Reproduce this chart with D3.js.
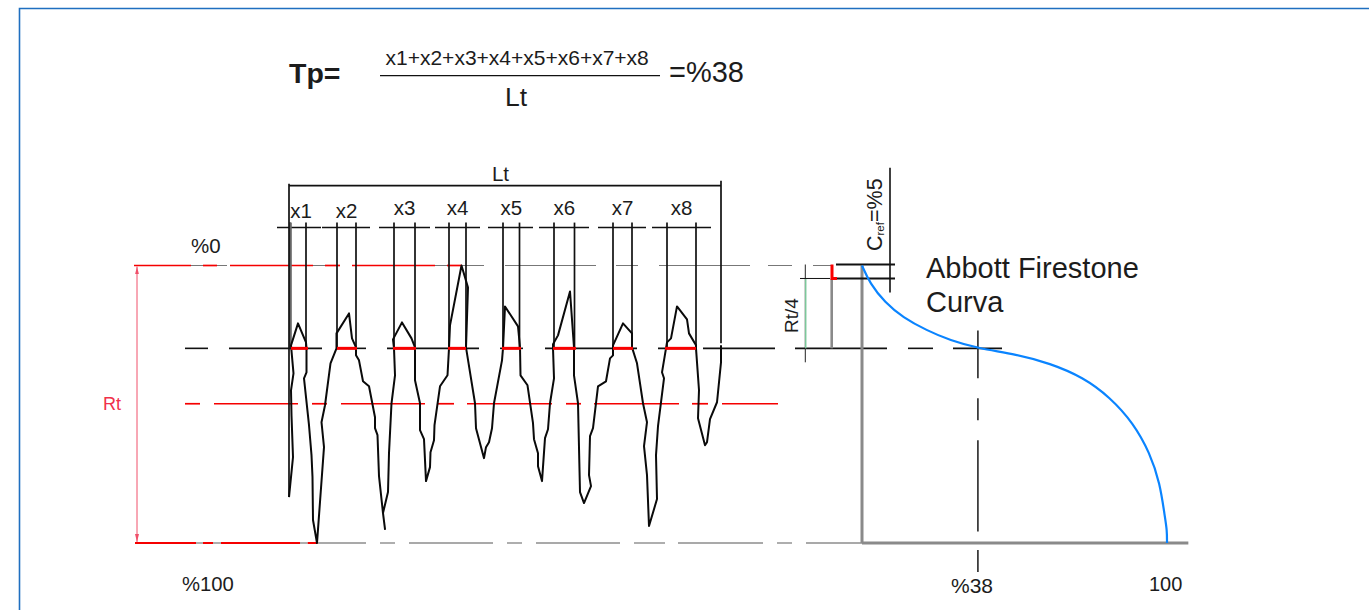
<!DOCTYPE html>
<html lang="en">
<head>
    <meta charset="UTF-8">
    <title>Abbott Firestone Curve</title>
    <script src="https://d3js.org/d3.v7.min.js"></script>
    <style>
        html, body { margin: 0; background: #fff; }
        svg { display: block; }
        text { font-family: "Liberation Sans", sans-serif; fill: #1c1c1c; }
    </style>
</head>
<body>
    <svg width="1369" height="610"></svg>

    <script>
        // profile trace, position along Lt (0-432) and depth below the top line (0-278)
        const profileX = [0, 4, 2.5, 2, 4.5, 2, 9, 17, 17.5, 17.5, 15, 20, 22.5, 23.5, 24, 28, 35, 32.5, 36, 41.5, 47.5,
            47.5, 60, 63, 67, 67, 70, 74, 80, 86, 86, 88.5, 90, 94, 96, 94, 99, 100, 102.5, 106, 105,
            104, 113, 122.5, 126, 126, 131, 131, 135, 136, 137, 141, 141.5, 145, 145.5, 151, 158.5, 160,
            161, 172.5, 179, 177, 186, 187, 191, 195, 197, 200, 203, 205, 213, 214,
            216, 229, 231, 231.5, 238.5, 244, 245, 249, 249, 253, 256, 259, 261, 265, 264,
            264, 269, 281, 285, 285, 289, 291, 295, 302, 300, 301, 304, 309, 317, 321, 324, 324,
            324, 334, 343, 343, 348, 354, 358, 355, 358, 360, 368, 367, 369, 375, 373, 377,
            378, 382, 388, 398, 400, 407, 407, 410, 409, 416, 418, 421, 428, 432, 432];
        const profileDepth = [232, 192, 150, 125, 108, 80, 58, 77, 83, 107, 113, 160, 190, 212, 255, 278, 182, 157, 140, 98, 83,
            68, 48, 73, 82, 90, 95, 116, 121, 152, 163, 170, 211, 248, 264, 248, 227, 188, 138, 110, 83,
            74, 57, 73, 82, 115, 138, 165, 174, 195, 216, 202, 187, 175, 160, 121, 110, 83,
            60, 0, 22, 82, 138, 163, 178, 193, 182, 177, 163, 138, 95, 83,
            41, 61, 82, 110, 120, 158, 174, 188, 201, 216, 173, 164, 138, 113, 83,
            79, 70, 26, 82, 110, 138, 227, 238, 221, 210, 171, 163, 121, 116, 93, 90, 83,
            80, 58, 68, 82, 98, 138, 157, 181, 210, 261, 234, 190, 161, 113, 107, 83,
            77, 73, 41, 54, 68, 80, 83, 125, 153, 180, 177, 154, 137, 97, 80];

        // bearing ratio curve, percent of Lt against depth
        const bearingPct = [0, 2.6, 7.5, 13.4, 21.2, 28.9, 38, 50.7, 61.6, 72.5, 81.3, 89, 94.4, 97.7, 99.3, 100, 100];
        const bearingDepth = [0, 18, 37, 52, 65, 75, 83, 89, 98, 112, 132, 158, 188, 218, 252, 265, 278];

        // x1..x8 intervals where the profile is above the mean line
        const xLabels = ["x1", "x2", "x3", "x4", "x5", "x6", "x7", "x8"];
        const xStart = [1, 48, 105, 160, 214, 265, 324, 378];
        const xEnd = [17, 67, 126, 177, 230.5, 285.5, 343, 407];

        const topDepth = 0, crefDepth = 13, meanDepth = 83, redDepth = 138.5, bottomDepth = 278, rowDepth = -38;

        // dashed construction lines, [from, to] along the Lt scale
        const topRed = [[-155, -98], [-86, -72], [-59, 24], [36, 51], [63, 146], [158, 173]];
        const topGrey = [[-98, -86], [-72, -62], [24, 36], [146, 158], [173, 195], [216, 307], [327, 349], [370, 461], [479, 503], [524, 543]];
        const meanBlack = [[-104, -81], [-60, 33], [48, 77], [98, 190], [211, 234], [256, 348], [369, 407], [414, 486], [506, 598], [619, 644], [664, 713]];
        const meanRed = [[2, 19], [48, 68], [104, 127], [159, 177], [213, 232], [264, 287], [324, 344], [376, 407]];
        const midRed = [[-104, -89], [-75, 9], [23, 38], [52, 136], [149, 165], [178, 263], [277, 292], [305, 390], [403, 419], [433, 489]];
        const rowBlack = [[-12, 32], [33, 81], [90, 141], [146, 191], [199, 244], [250, 300], [309, 357], [363, 422]];
        const bottomRed = [[-154, -93], [-86, -76], [-68, 11], [18.7, 28.7]];
        const bottomGrey = [[-93, -86], [-76, -68], [11, 18.7], [28.7, 77], [91, 106], [120, 204], [218, 233], [247, 331], [345, 376], [389, 474], [488, 503], [517, 573]];

        // %38 marker, dashes given as [from, to] in depth
        const markPct = 38;
        const markDashes = [[65, 113], [133, 155], [175, 266.5], [285, 307]];

        const svg = d3.select("svg");

        const x = d3.scaleLinear().domain([0, 432]).range([289, 721]);
        const y = d3.scaleLinear().domain([0, 278]).range([265.5, 543]);
        const bearingX = d3.scaleLinear().domain([0, 100]).range([862, 1167]);

        // outer frame
        svg.append("path")
            .attr("d", "M19.5,610V8.5H1369")
            .attr("fill", "none")
            .attr("stroke", "#1f6fc0")
            .attr("stroke-width", 1.6);

        svg.append("defs").selectAll("marker")
            .data(["up", "down"])
            .enter().append("marker")
            .attr("id", d => "rt-" + d)
            .attr("markerUnits", "userSpaceOnUse")
            .attr("markerWidth", 6).attr("markerHeight", 8)
            .attr("refX", 3).attr("refY", d => d == "up" ? 0 : 8)
            .attr("orient", 0)
            .append("path")
            .attr("d", d => d == "up" ? "M3,0L5,8H1Z" : "M3,8L5,0H1Z")
            .attr("fill", "#f0506a");

        function hLines(segs, depth, color, width) {
            svg.append("g").selectAll("line")
                .data(segs)
                .enter().append("line")
                .attr("x1", d => x(d[0]))
                .attr("x2", d => x(d[1]))
                .attr("y1", y(depth))
                .attr("y2", y(depth))
                .attr("stroke", color)
                .attr("stroke-width", width);
        }

        function vLine(pos, d0, d1, color, width) {
            return svg.append("line")
                .attr("x1", pos).attr("x2", pos)
                .attr("y1", y(d0)).attr("y2", y(d1))
                .attr("stroke", color).attr("stroke-width", width);
        }

        function label(str, px, py, size) {
            return svg.append("text").attr("x", px).attr("y", py).attr("font-size", size).text(str);
        }

        // horizontal construction lines
        hLines(topGrey, topDepth, "#777", 1);
        hLines(bottomGrey, bottomDepth, "#8c8c8c", 1.4);
        hLines(topRed, topDepth, "#f50000", 1.7);
        hLines(bottomRed, bottomDepth, "#f50000", 2);
        hLines(meanBlack, meanDepth, "#111", 1.6);
        hLines(midRed, redDepth, "#f50000", 1.7);
        hLines(rowBlack, rowDepth, "#111", 1.6);

        // x1..x8 drop lines
        xStart.forEach((d, i) => {
            vLine(x(d), -43, meanDepth, "#111", 1.7);
            vLine(x(xEnd[i]), -43, meanDepth, "#111", 1.7);
        });
        vLine(x(1.5), -43, meanDepth, "#666", 2.6);
        vLine(x(0), -82, 232, "#111", 1.7);
        vLine(x(432), -85, 78, "#111", 1.7);

        // Lt dimension
        svg.append("line")
            .attr("x1", x(0)).attr("x2", x(432))
            .attr("y1", y(-80)).attr("y2", y(-80))
            .attr("stroke", "#111").attr("stroke-width", 1.6);

        // Rt dimension
        vLine(x(-152), 1, 277, "#f0506a", 1)
            .attr("marker-start", "url(#rt-up)")
            .attr("marker-end", "url(#rt-down)");

        // the profile
        svg.append("path")
            .datum(d3.zip(profileX, profileDepth))
            .attr("d", d3.line().x(d => x(d[0])).y(d => y(d[1])))
            .attr("fill", "none")
            .attr("stroke", "#0a0a0a")
            .attr("stroke-width", 2)
            .attr("stroke-linejoin", "round");

        hLines(meanRed, meanDepth, "#fa0000", 3);

        // curve axes and Rt/4 + Cref block
        vLine(bearingX(0), topDepth, bottomDepth, "#8a8a8a", 3);
        svg.append("line")
            .attr("x1", bearingX(0)).attr("x2", bearingX(107))
            .attr("y1", y(bottomDepth)).attr("y2", y(bottomDepth))
            .attr("stroke", "#8a8a8a").attr("stroke-width", 3);
        vLine(x(542.7), crefDepth, meanDepth, "#8a8a8a", 2.6);
        vLine(x(516.3), -1, 97, "#222", 1);
        vLine(x(516.7), crefDepth, meanDepth, "#7cc79a", 1.5);
        vLine(x(601), -98, 27, "#111", 1.6);
        hLines([[547, 606]], -1, "#111", 1.8);
        hLines([[543, 606]], crefDepth, "#111", 1.8);
        hLines([[511, 541]], crefDepth, "#111", 1);
        svg.append("path")
            .attr("d", `M${x(543)},${y(-1)}V${y(crefDepth)}H${x(548)}`)
            .attr("fill", "none")
            .attr("stroke", "#fa0000")
            .attr("stroke-width", 3);

        markDashes.forEach(d => vLine(bearingX(markPct), d[0], d[1], "#333", 1.7));

        // abbott curve
        svg.append("path")
            .datum(d3.zip(bearingPct, bearingDepth))
            .attr("d", d3.line().x(d => bearingX(d[0])).y(d => y(d[1])).curve(d3.curveBasis))
            .attr("fill", "none")
            .attr("stroke", "#0a84ff")
            .attr("stroke-width", 2.2);

        // formula
        label("Tp=", 289, 83, 28.5).attr("font-weight", "bold");
        label("x1+x2+x3+x4+x5+x6+x7+x8", 385.5, 65, 21);
        svg.append("line")
            .attr("x1", 380).attr("x2", 660).attr("y1", 75.7).attr("y2", 75.7)
            .attr("stroke", "#111").attr("stroke-width", 1.2);
        label("Lt", 505, 106, 26.5);
        label("=%38", 669, 82, 29);

        // dimension and axis texts
        label("Lt", x(211.5), 180.5, 20.5).attr("text-anchor", "middle");
        xLabels.forEach((d, i) => {
            label(d, x((xStart[i] + xEnd[i]) / 2) + (i == 0 ? 3 : 0), i < 2 ? 218 : 215, 20.5)
                .attr("text-anchor", "middle");
        });
        label("%0", 191, 253, 20.5);
        label("Rt", 103, 410, 18).style("fill", "#f0304a");
        label("%100", 182, 591, 20.3);
        label("%38", 951, 593, 21);
        label("100", 1149, 591, 20);
        label("Abbott Firestone", 926, 278, 29);
        label("Curva", 926, 312, 29);
        label("Rt/4", 0, 0, 19).attr("transform", "translate(798,333) rotate(-90)");

        const cref = label("", 0, 0, 21.5).attr("transform", "translate(881.5,251) rotate(-90)");
        cref.append("tspan").text("C");
        cref.append("tspan").attr("font-size", 11.5).attr("dy", 2).text("ref");
        cref.append("tspan").attr("dy", -2).text("=%5");
    </script>
</body>
</html>
